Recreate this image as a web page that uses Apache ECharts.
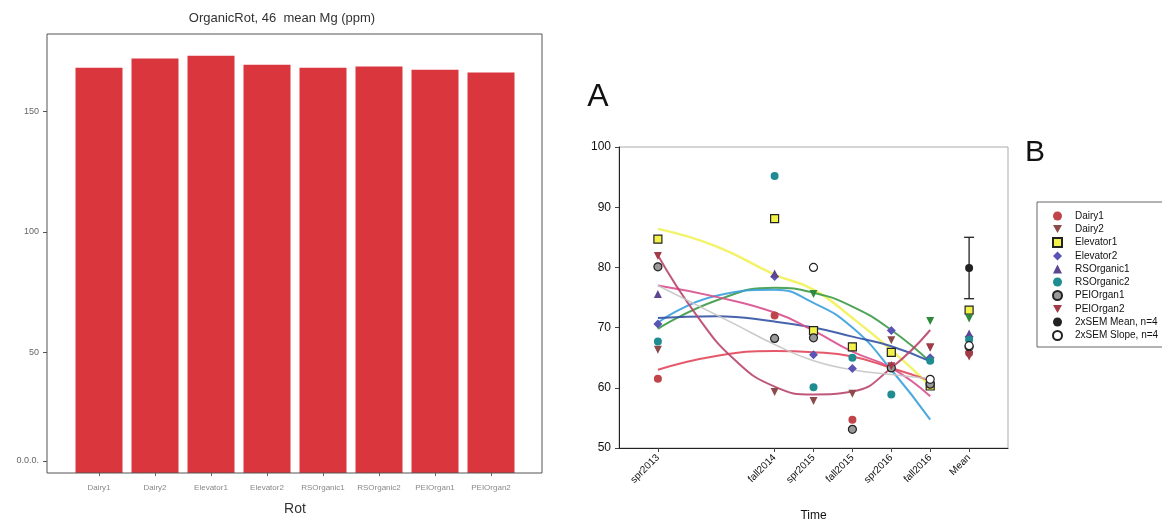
<!DOCTYPE html>
<html>
<head>
<meta charset="utf-8">
<script src="https://cdn.jsdelivr.net/npm/echarts@6/dist/echarts.min.js"></script>
<style>
html, body { margin: 0; background: #fff; }
#main { width: 1162px; height: 527px; }
</style>
</head>
<body>
<div id="main"></div>
<script>
// left panel: mean Mg per rotation
var rotNames = ['Dairy1', 'Dairy2', 'Elevator1', 'Elevator2', 'RSOrganic1', 'RSOrganic2', 'PEIOrgan1', 'PEIOrgan2'];
var rotMg = [168, 171.8, 173, 169.3, 168, 168.5, 167.2, 166];
var barTicks = [5, 50, 100, 150];
var barTickText = {5: '0.0.0.', 50: '50', 100: '100', 150: '150'};

// right panel: time axis (value positions) and labels
var timeTicks = [0, 3, 4, 5, 6, 7, 8];
var timeLabels = ['spr2013', 'fall2014', 'spr2015', 'fall2015', 'spr2016', 'fall2016', 'Mean'];

// measured points [time, Mg]
var dairy1 = [[0, 61.5], [3, 72.0], [5, 54.7], [6, 63.3], [8, 65.8]];
var dairy2 = [[0, 66.3], [3, 59.3], [4, 57.8], [5, 59.0], [6, 67.9], [7, 66.7], [8, 65.2]];
var elevator1 = [[0, 84.7], [3, 88.1], [4, 69.5], [5, 66.8], [6, 65.9], [7, 60.3], [8, 72.9]];
var elevator2 = [[0, 70.6], [3, 78.5], [4, 65.5], [5, 63.2], [6, 69.5], [7, 65.0], [8, 68.5]];
var rsOrganic1 = [[0, 75.6], [3, 79.0], [6, 63.8], [8, 69.0]];
var rsOrganic2 = [[0, 67.7], [3, 95.2], [4, 60.1], [5, 65.0], [6, 58.9], [7, 64.5], [8, 68.0]];
var peiOrgan1 = [[0, 80.1], [3, 68.2], [4, 68.3], [5, 53.1], [6, 63.3], [7, 60.6], [8, 66.8]];
var peiOrgan2 = [[0, 81.9], [6, 63.6], [7, 66.7], [8, 65.4]];
var greenPts = [[4, 75.6], [7, 71.1], [8, 71.5]];
var semMean = [[8, 79.9]];
var semSlope = [[4, 80.0], [7, 61.4], [8, 67.0]];
var semBar = [[8, 74.8, 85.0]];

// fitted curves
var fitYellow = [[0, 86.4], [1.5, 83.5], [3, 78.8], [4, 76.3], [5, 71.6], [6, 66.3], [7, 60.3]];
var fitGreen = [[0, 69.8], [1.5, 74.5], [3, 76.6], [4, 75.8], [5, 73.5], [6, 69.6], [7, 64.3]];
var fitSky = [[0, 70.8], [1.5, 75.3], [3, 76.3], [4, 74.1], [5, 70.0], [6, 63.0], [7, 54.7]];
var fitNavy = [[0, 71.6], [1.5, 71.9], [3, 71.0], [4, 70.0], [5, 68.5], [6, 66.9], [7, 64.4]];
var fitPink = [[0, 77.0], [1.5, 75.1], [3, 72.5], [4, 69.5], [5, 66.0], [6, 63.3], [7, 58.6]];
var fitRed = [[0, 63.0], [1.5, 65.3], [3, 66.1], [4, 65.9], [5, 65.2], [6, 63.3], [7, 61.2]];
var fitRose = [[0, 82.0], [1, 72.0], [2, 64.5], [3, 60.2], [4, 58.9], [5, 59.4], [6, 63.3], [7, 69.6]];
var fitGray = [[0, 77.0], [2, 70.5], [3, 67.2], [4, 64.5], [5, 63.0], [6, 62.2], [7, 61.5]];

var downTri = 'path://M0,0 L10,0 L5,9 Z';

var myChart = echarts.init(document.getElementById('main'));

function fitLine(data, color, width) {
    return {
        type: 'line', xAxisIndex: 1, yAxisIndex: 1, data: data,
        smooth: 0.5, showSymbol: false, silent: true, z: 2,
        lineStyle: { color: color, width: width || 2, opacity: 0.9 }
    };
}

function dots(name, data, symbol, color, border, size) {
    return {
        name: name, type: 'scatter', xAxisIndex: 1, yAxisIndex: 1, data: data,
        symbol: symbol, symbolSize: size || 8, z: 4,
        itemStyle: { color: color, borderColor: border || color, borderWidth: border ? 1.2 : 0, opacity: 1 }
    };
}

var option = {
    animation: false,
    textStyle: { fontFamily: 'Liberation Sans, Arial, sans-serif' },
    graphic: [
        { type: 'text', x: 282, y: 18, style: { text: 'OrganicRot, 46  mean Mg (ppm)', fill: '#333', font: '13px Liberation Sans', textAlign: 'center', textVerticalAlign: 'middle' } },
        { type: 'rect', shape: { x: 47, y: 34, width: 495, height: 439 }, style: { fill: 'none', stroke: '#555', lineWidth: 1 }, z: 10 },
        { type: 'text', x: 598, y: 97, style: { text: 'A', fill: '#111', font: '32px Liberation Sans', textAlign: 'center', textVerticalAlign: 'middle' } },
        { type: 'text', x: 1035, y: 153, style: { text: 'B', fill: '#111', font: '30px Liberation Sans', textAlign: 'center', textVerticalAlign: 'middle' } }
    ],
    grid: [
        { left: 71, top: 34, width: 448, height: 439 },
        { left: 619, top: 147, width: 389, height: 302, show: true, borderColor: '#aaa', borderWidth: 1 }
    ],
    legend: {
        data: [
            { name: 'Dairy1' },
            { name: 'Dairy2', icon: downTri },
            { name: 'Elevator1' },
            { name: 'Elevator2' },
            { name: 'RSOrganic1' },
            { name: 'RSOrganic2' },
            { name: 'PEIOrgan1' },
            { name: 'PEIOrgan2', icon: downTri },
            { name: '2xSEM Mean, n=4' },
            { name: '2xSEM Slope, n=4' }
        ],
        orient: 'vertical', left: 1037, top: 202,
        itemWidth: 9, itemHeight: 9, itemGap: 3,
        padding: [9, 30, 6, 15],
        borderColor: '#666', borderWidth: 1,
        textStyle: { fontSize: 10, color: '#111', lineHeight: 10, padding: [0, 0, 0, 8] }
    },
    xAxis: [
        {
            type: 'category', gridIndex: 0, data: rotNames,
            name: 'Rot', nameLocation: 'middle', nameGap: 29,
            nameTextStyle: { fontSize: 14, color: '#333' },
            axisLine: { show: false },
            axisTick: { show: true, alignWithLabel: true, length: 3, lineStyle: { color: '#666' } },
            axisLabel: { interval: 0, fontSize: 8, color: '#888', margin: 11 }
        },
        {
            type: 'value', gridIndex: 1, min: -1, max: 9,
            name: 'Time', nameLocation: 'middle', nameGap: 62,
            nameTextStyle: { fontSize: 12, color: '#111' },
            splitLine: { show: false },
            axisLine: { onZero: false, lineStyle: { color: '#222' } },
            axisTick: { customValues: timeTicks, length: 4, lineStyle: { color: '#444' } },
            axisLabel: {
                customValues: timeTicks, rotate: 45, fontSize: 10, color: '#111', margin: 8,
                formatter: function (v) { return timeLabels[timeTicks.indexOf(v)]; }
            }
        }
    ],
    yAxis: [
        {
            type: 'value', gridIndex: 0, min: 0, max: 182, offset: 24,
            splitLine: { show: false },
            axisLine: { show: false },
            axisTick: { show: true, customValues: barTicks, length: 4, lineStyle: { color: '#555' } },
            axisLabel: {
                customValues: barTicks, fontSize: 9, color: '#666', margin: 8,
                formatter: function (v) { return barTickText[v]; }
            }
        },
        {
            type: 'value', gridIndex: 1, min: 50, max: 100, interval: 10,
            splitLine: { show: false },
            axisLine: { show: true, onZero: false, lineStyle: { color: '#222' } },
            axisTick: { show: true, length: 4, lineStyle: { color: '#444' } },
            axisLabel: { fontSize: 12, color: '#111', margin: 8 }
        }
    ],
    series: [
        {
            type: 'bar', xAxisIndex: 0, yAxisIndex: 0, data: rotMg,
            barWidth: 47, itemStyle: { color: '#d9373d' }
        },
        fitLine(fitYellow, '#f2f25a', 2.5),
        fitLine(fitGreen, '#3c9a48'),
        fitLine(fitSky, '#3aa0dc'),
        fitLine(fitNavy, '#3452a4'),
        fitLine(fitPink, '#d9508e'),
        fitLine(fitRed, '#e2465a'),
        fitLine(fitRose, '#b9456c'),
        fitLine(fitGray, '#c4c4c4', 1.5),
        dots('Dairy1', dairy1, 'circle', '#c0454a'),
        dots('Dairy2', dairy2, downTri, '#8c4a4a'),
        dots('Elevator1', elevator1, 'rect', '#f2f24a', '#222'),
        dots('Elevator2', elevator2, 'diamond', '#5a55b5', null, 9),
        dots('RSOrganic1', rsOrganic1, 'triangle', '#5e4592'),
        dots('RSOrganic2', rsOrganic2, 'circle', '#1f8c92'),
        dots('PEIOrgan1', peiOrgan1, 'circle', '#999', '#222'),
        dots('PEIOrgan2', peiOrgan2, downTri, '#a23a48'),
        dots('green', greenPts, downTri, '#2e8b3e'),
        {
            type: 'custom', xAxisIndex: 1, yAxisIndex: 1, data: semBar, z: 3, silent: true,
            encode: { x: 0, y: [1, 2] },
            renderItem: function (params, api) {
                var lo = api.coord([api.value(0), api.value(1)]);
                var hi = api.coord([api.value(0), api.value(2)]);
                var st = { stroke: '#222', lineWidth: 1.3 };
                return {
                    type: 'group', children: [
                        { type: 'line', shape: { x1: lo[0], y1: lo[1], x2: hi[0], y2: hi[1] }, style: st },
                        { type: 'line', shape: { x1: lo[0] - 5, y1: lo[1], x2: lo[0] + 5, y2: lo[1] }, style: st },
                        { type: 'line', shape: { x1: hi[0] - 5, y1: hi[1], x2: hi[0] + 5, y2: hi[1] }, style: st }
                    ]
                };
            }
        },
        dots('2xSEM Mean, n=4', semMean, 'circle', '#222'),
        dots('2xSEM Slope, n=4', semSlope, 'circle', '#fff', '#222')
    ]
};

myChart.setOption(option);
</script>
</body>
</html>
